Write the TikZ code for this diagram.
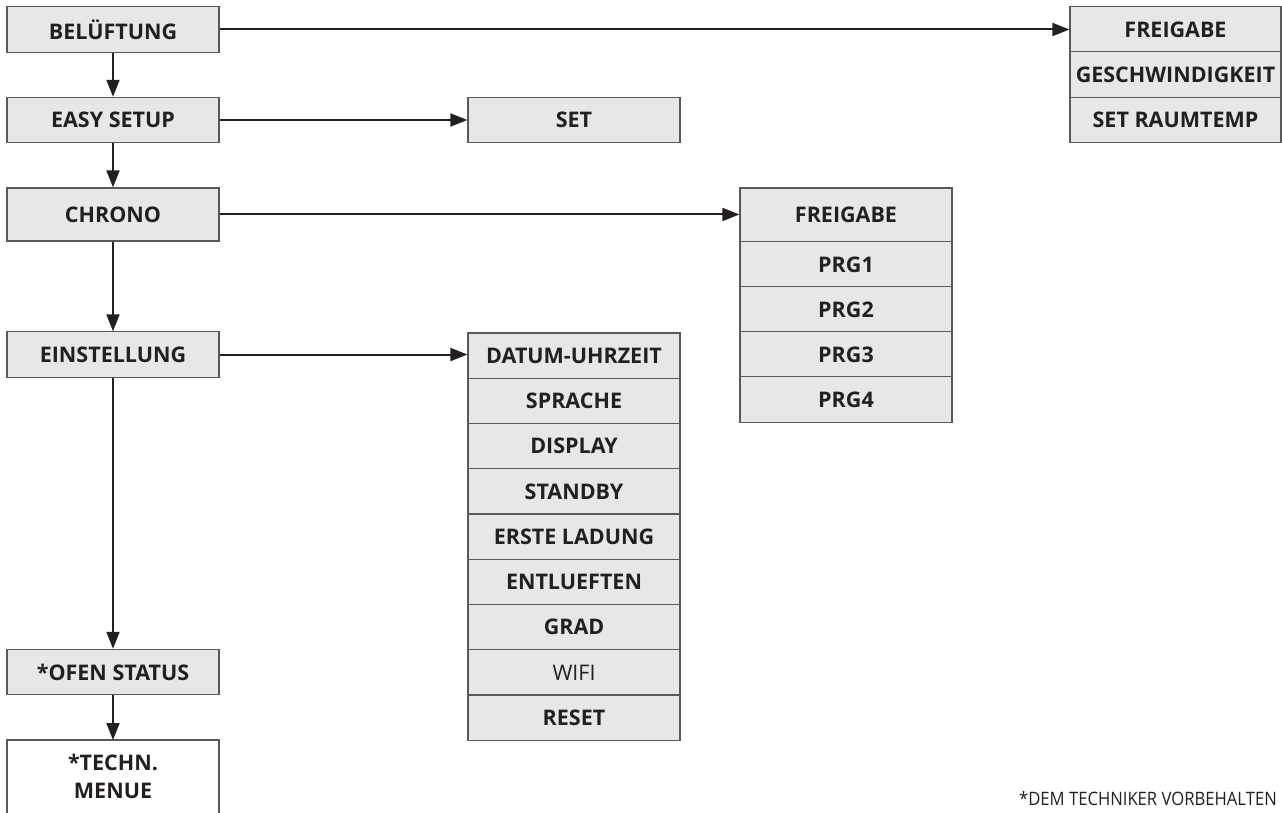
\documentclass[tikz,border=0pt]{standalone}
\usepackage{fontspec}
\setmainfont{Open Sans}
\newfontfamily\notefont[FakeStretch=0.9]{Open Sans}
\usetikzlibrary{positioning,arrows.meta}
\definecolor{boxfill}{RGB}{230,231,232}
\definecolor{boxline}{RGB}{88,89,91}
\definecolor{ink}{RGB}{35,31,32}
\tikzset{
    menu/.style={draw=boxline,line width=1.2pt,fill=boxfill,text=ink,
        minimum width=212,minimum height=45.25,inner sep=0pt,
        font=\fontsize{21.5}{26}\selectfont\bfseries},
    link/.style={draw=ink,line width=2pt,-{Triangle[length=17pt,width=13pt]}}
}
\begin{document}
\begin{tikzpicture}[x=1pt,y=-1pt]
    \useasboundingbox (0,0) rectangle (1282,813);
    % main column
    \node[menu] (bel) at (113,29.5) {BELÜFTUNG};
    \node[menu] (easy) at (113,120) {EASY SETUP};
    \node[menu,minimum height=53] (chrono) at (113,214.5) {CHRONO};
    \node[menu] (einst) at (113,354.5) {EINSTELLUNG};
    \node[menu] (ofen) at (113,672) {*OFEN STATUS};
    \node[font=\fontsize{21.5}{28}\selectfont\bfseries,text=ink,align=center,
        anchor=north,inner sep=0pt,minimum height=73] (techn) at (113,740) {*TECHN.\\MENUE};
    \draw[boxline,line width=1.2pt] (7,814) -- (7,740) -- (219,740) -- (219,814);
    % beluftung
    \node[menu,minimum width=211] (fg1) at (1175.5,29.5) {FREIGABE};
    \node[menu,minimum width=211] (gesch) at (1175.5,74.5) {GESCHWINDIGKEIT};
    \node[menu,minimum width=211] (raum) at (1175.5,120) {SET RAUMTEMP};
    % easy setup
    \node[menu] (set) at (574,120) {SET};
    % chrono
    \node[menu,minimum height=54] (fg2) at (846,215) {FREIGABE};
    \node[menu] (prg1) at (846,264.5) {PRG1};
    \node[menu] (prg2) at (846,309.5) {PRG2};
    \node[menu] (prg3) at (846,354.5) {PRG3};
    \node[menu] (prg4) at (846,399.5) {PRG4};
    % einstellung
    \node[menu] (datum) at (574,355.6) {DATUM-UHRZEIT};
    \node[menu] (sprache) at (574,400.9) {SPRACHE};
    \node[menu] (display) at (574,446.1) {DISPLAY};
    \node[menu] (standby) at (574,491.4) {STANDBY};
    \node[menu] (ladung) at (574,536.6) {ERSTE LADUNG};
    \node[menu] (entl) at (574,581.9) {ENTLUEFTEN};
    \node[menu] (grad) at (574,627.1) {GRAD};
    \node[menu,font=\fontsize{21.5}{26}\selectfont] (wifi) at (574,672.4) {WIFI};
    \node[menu] (reset) at (574,717.6) {RESET};
    % arrows
    \draw[link] (bel) -- (easy);
    \draw[link] (easy) -- (chrono);
    \draw[link] (chrono) -- (einst);
    \draw[link] (einst) -- (ofen);
    \draw[link] (ofen) -- (techn);
    \draw[link] (bel) -- (fg1);
    \draw[link] (easy) -- (set);
    \draw[link] (chrono.east) -- (fg2.west |- chrono.east);
    \draw[link] (einst.east) -- (datum.west |- einst.east);
    \node[anchor=base east,inner sep=0pt,text=ink,
        font=\notefont\fontsize{18.5}{22}\selectfont] (note) at (1277,805) {*DEM TECHNIKER VORBEHALTEN};
\end{tikzpicture}
\end{document}
